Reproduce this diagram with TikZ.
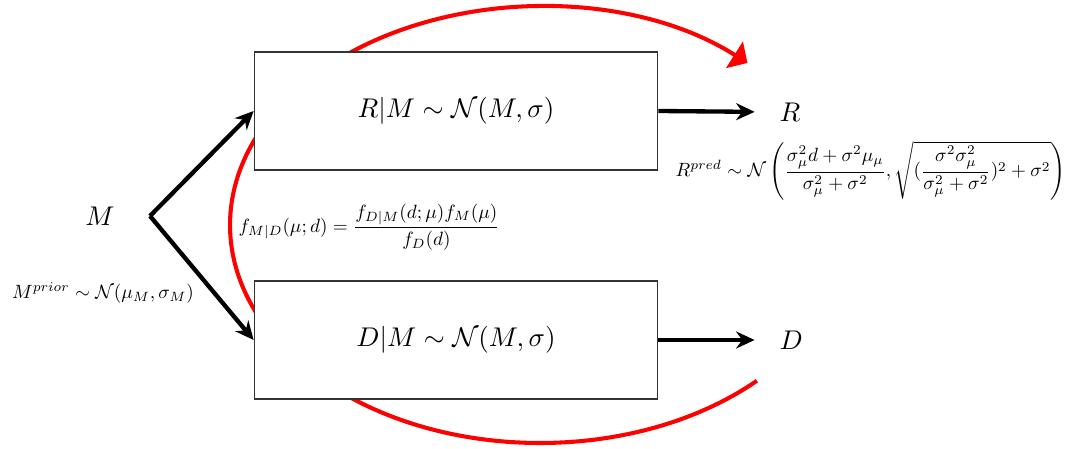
\documentclass[tikz,border=0pt]{standalone}
\usepackage{amsmath}
\usepackage{graphicx}
\usetikzlibrary{arrows.meta}
\begin{document}
\begin{tikzpicture}[x=0.013cm,y=0.013cm,>={Stealth[length=2.4mm,width=2.2mm]},
  model/.style={draw=black!80,line width=0.6pt,fill=white,minimum width=5.24cm,minimum height=1.54cm},
  flow/.style={->,line width=1.6pt}]
  \useasboundingbox (0,0) rectangle (1068,448);
  \coordinate (loopc) at (540,223);
  \draw[red,line width=1.5pt,-{Triangle[length=2mm,width=4mm]}] (loopc) ++(-45.6:4.03cm and 2.834cm)
    arc[start angle=-45.6,end angle=-312,x radius=4.03cm,y radius=2.834cm];
  \node[model] (rbox) at (456,337) {$R|M \sim \mathcal{N}(M,\sigma)$};
  \node[model] (dbox) at (456,108) {$D|M \sim \mathcal{N}(M,\sigma)$};
  \node (m) at (100,232) {$M$};
  \coordinate (fork) at (150,232);
  \node[anchor=west] (r) at (770,336) {$R$};
  \node[anchor=west] (d) at (770,108) {$D$};
  \draw[flow] (fork) -- (rbox.west);
  \draw[flow] (fork) -- (dbox.west);
  \draw[flow,shorten >=2mm] (rbox.east) -- (r.west);
  \draw[flow,shorten >=2mm] (dbox.east) -- (d.west);
  \node (prior) at (103,155) {\scalebox{0.71}{$M^{prior} \sim \mathcal{N}(\mu_M,\sigma_M)$}};
  \node[anchor=west] (bayes) at (229,221)
    {\scalebox{0.71}{$f_{M|D}(\mu;d) = \dfrac{f_{D|M}(d;\mu) f_M(\mu)}{f_D(d)}$}};
  \node[anchor=west] (pred) at (666,277)
    {\scalebox{0.71}{$R^{pred} \sim \mathcal{N}\left(\dfrac{\sigma_\mu^2 d + \sigma^2\mu_\mu}{\sigma_\mu^2+\sigma^2},
      \sqrt{(\dfrac{\sigma^2\sigma_\mu^2}{\sigma_\mu^2+\sigma^2})^2+\sigma^2}\right)$}};
\end{tikzpicture}
\end{document}
